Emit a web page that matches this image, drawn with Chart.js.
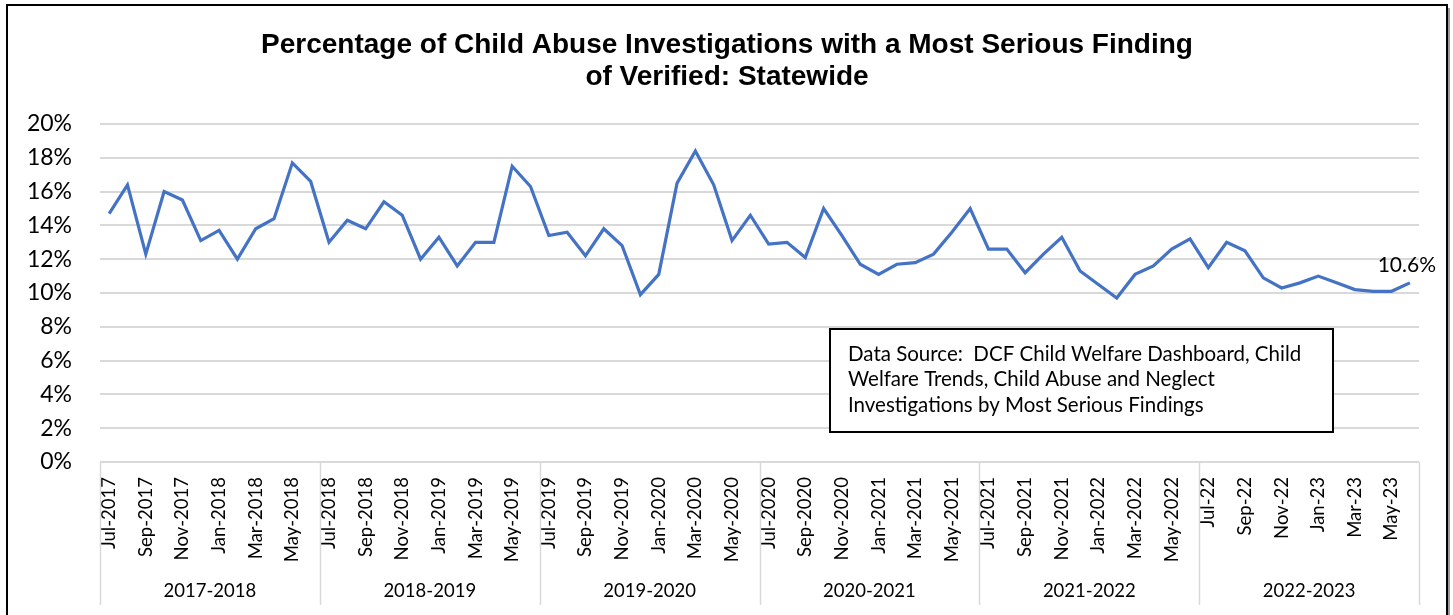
<!DOCTYPE html>
<html>
<head>
<meta charset="utf-8">
<script src="https://cdn.jsdelivr.net/npm/chart.js@4"></script>
<style>
  html, body { margin: 0; padding: 0; background: #fff; }
  #wrap { width: 1453px; height: 615px; }
</style>
</head>
<body>
<div id="wrap"><canvas id="chart" width="1453" height="615"></canvas></div>
<script>
// month labels (Jul-2017 .. Jun-2023)
const months = [
  'Jul-2017','Aug-2017','Sep-2017','Oct-2017','Nov-2017','Dec-2017','Jan-2018','Feb-2018','Mar-2018','Apr-2018','May-2018','Jun-2018',
  'Jul-2018','Aug-2018','Sep-2018','Oct-2018','Nov-2018','Dec-2018','Jan-2019','Feb-2019','Mar-2019','Apr-2019','May-2019','Jun-2019',
  'Jul-2019','Aug-2019','Sep-2019','Oct-2019','Nov-2019','Dec-2019','Jan-2020','Feb-2020','Mar-2020','Apr-2020','May-2020','Jun-2020',
  'Jul-2020','Aug-2020','Sep-2020','Oct-2020','Nov-2020','Dec-2020','Jan-2021','Feb-2021','Mar-2021','Apr-2021','May-2021','Jun-2021',
  'Jul-2021','Aug-2021','Sep-2021','Oct-2021','Nov-2021','Dec-2021','Jan-2022','Feb-2022','Mar-2022','Apr-2022','May-2022','Jun-2022',
  'Jul-22','Aug-22','Sep-22','Oct-22','Nov-22','Dec-22','Jan-23','Feb-23','Mar-23','Apr-23','May-23','Jun-23'
];

// fiscal year groups (12 months each)
const fiscalYears = ['2017-2018', '2018-2019', '2019-2020', '2020-2021', '2021-2022', '2022-2023'];

// percent verified
const verifiedPct = [
  14.7, 16.4, 12.3, 16.0, 15.5, 13.1, 13.7, 12.0, 13.8, 14.4, 17.7, 16.6,
  13.0, 14.3, 13.8, 15.4, 14.6, 12.0, 13.3, 11.6, 13.0, 13.0, 17.5, 16.3,
  13.4, 13.6, 12.2, 13.8, 12.8, 9.9, 11.1, 16.5, 18.4, 16.4, 13.1, 14.6,
  12.9, 13.0, 12.1, 15.0, 13.4, 11.7, 11.1, 11.7, 11.8, 12.3, 13.6, 15.0,
  12.6, 12.6, 11.2, 12.3, 13.3, 11.3, 10.5, 9.7, 11.1, 11.6, 12.6, 13.2,
  11.5, 13.0, 12.5, 10.9, 10.3, 10.6, 11.0, 10.6, 10.2, 10.1, 10.1, 10.6
];

const titleLines = [
  'Percentage of Child Abuse Investigations with a Most Serious Finding',
  'of Verified: Statewide'
];
const sourceNote = [
  'Data Source:  DCF Child Welfare Dashboard, Child',
  'Welfare Trends, Child Abuse and Neglect',
  'Investigations by Most Serious Findings'
];

const bodyFont = 'Lato, "Open Sans", sans-serif';
const gridColor = '#d9d9d9';

// frame, title, year groups, note box, last value label
const extras = {
  id: 'extras',
  beforeDraw(chart) {
    const c = chart.ctx;
    c.save();
    c.fillStyle = '#fff';
    c.fillRect(0, 0, chart.width, chart.height);
    c.restore();
  },
  afterDraw(chart) {
    const c = chart.ctx;
    const area = chart.chartArea;
    const x = chart.scales.x;
    const y = chart.scales.y;
    c.save();

    // outer frame
    c.strokeStyle = '#9a9a9a';
    c.lineWidth = 2;
    c.beginPath();
    c.moveTo(1449, 8); c.lineTo(1449, 620);
    c.stroke();
    c.strokeStyle = '#000';
    c.lineWidth = 2;
    c.strokeRect(7, 5, 1440, 640);

    // title
    c.fillStyle = '#000';
    c.font = 'bold 28px "Liberation Sans", Arial, sans-serif';
    c.textAlign = 'center';
    c.textBaseline = 'alphabetic';
    c.fillText(titleLines[0], 727, 53);
    c.fillText(titleLines[1], 727, 85);

    // group separators and fiscal year labels
    const step = (area.right - area.left) / months.length;
    c.strokeStyle = gridColor;
    c.lineWidth = 1.5;
    for (let g = 0; g <= fiscalYears.length; g++) {
      const px = Math.round(area.left + g * 12 * step) + 0.5;
      c.beginPath();
      c.moveTo(px, area.bottom);
      c.lineTo(px, 605);
      c.stroke();
    }
    c.fillStyle = '#000';
    c.font = '18.5px ' + bodyFont;
    c.textBaseline = 'middle';
    fiscalYears.forEach((fy, g) => {
      const cx = area.left + (g * 12 + 6) * step;
      c.fillText(fy, cx, 591);
    });

    // label on last point
    const last = verifiedPct.length - 1;
    const lx = x.getPixelForValue(last);
    const ly = y.getPixelForValue(verifiedPct[last]);
    c.font = '21px ' + bodyFont;
    c.textAlign = 'center';
    c.fillText(verifiedPct[last].toFixed(1) + '%', lx - 3, ly - 18);

    // note box
    c.fillStyle = '#fff';
    c.fillRect(830, 329, 503, 103);
    c.strokeStyle = '#000';
    c.lineWidth = 2;
    c.strokeRect(830, 329, 503, 103);
    c.fillStyle = '#000';
    c.font = '20.5px ' + bodyFont;
    c.textAlign = 'left';
    sourceNote.forEach((line, i) => {
      c.fillText(line, 848, 354 + i * 25.5);
    });

    c.restore();
  }
};

const ctx = document.getElementById('chart').getContext('2d');
const chart = new Chart(ctx, {
  type: 'line',
  data: {
    labels: months,
    datasets: [{
      data: verifiedPct,
      borderColor: '#4472C4',
      borderWidth: 3.2,
      pointRadius: 0,
      tension: 0,
      fill: false
    }]
  },
  options: {
    responsive: false,
    animation: false,
    layout: { padding: { top: 124, right: 34, left: 0, bottom: 0 } },
    plugins: {
      legend: { display: false },
      title: { display: false },
      tooltip: { enabled: false }
    },
    scales: {
      x: {
        offset: true,
        grid: { display: false, drawTicks: false },
        border: { display: false },
        ticks: {
          autoSkip: false,
          maxRotation: 90,
          minRotation: 90,
          padding: 15,
          color: '#000',
          font: { family: bodyFont, size: 18.5 },
          callback: (v, i) => (i % 2 === 0 ? months[i] : '')
        },
        afterFit: (s) => { s.height = 153; }
      },
      y: {
        min: 0,
        max: 20,
        grid: { color: gridColor, lineWidth: 2, drawTicks: false },
        border: { display: false },
        ticks: {
          stepSize: 2,
          padding: 28,
          color: '#000',
          font: { family: bodyFont, size: 23 },
          callback: (v) => v + '%'
        },
        afterFit: (s) => { s.width = 100; }
      }
    }
  },
  plugins: [extras]
});
</script>
</body>
</html>
